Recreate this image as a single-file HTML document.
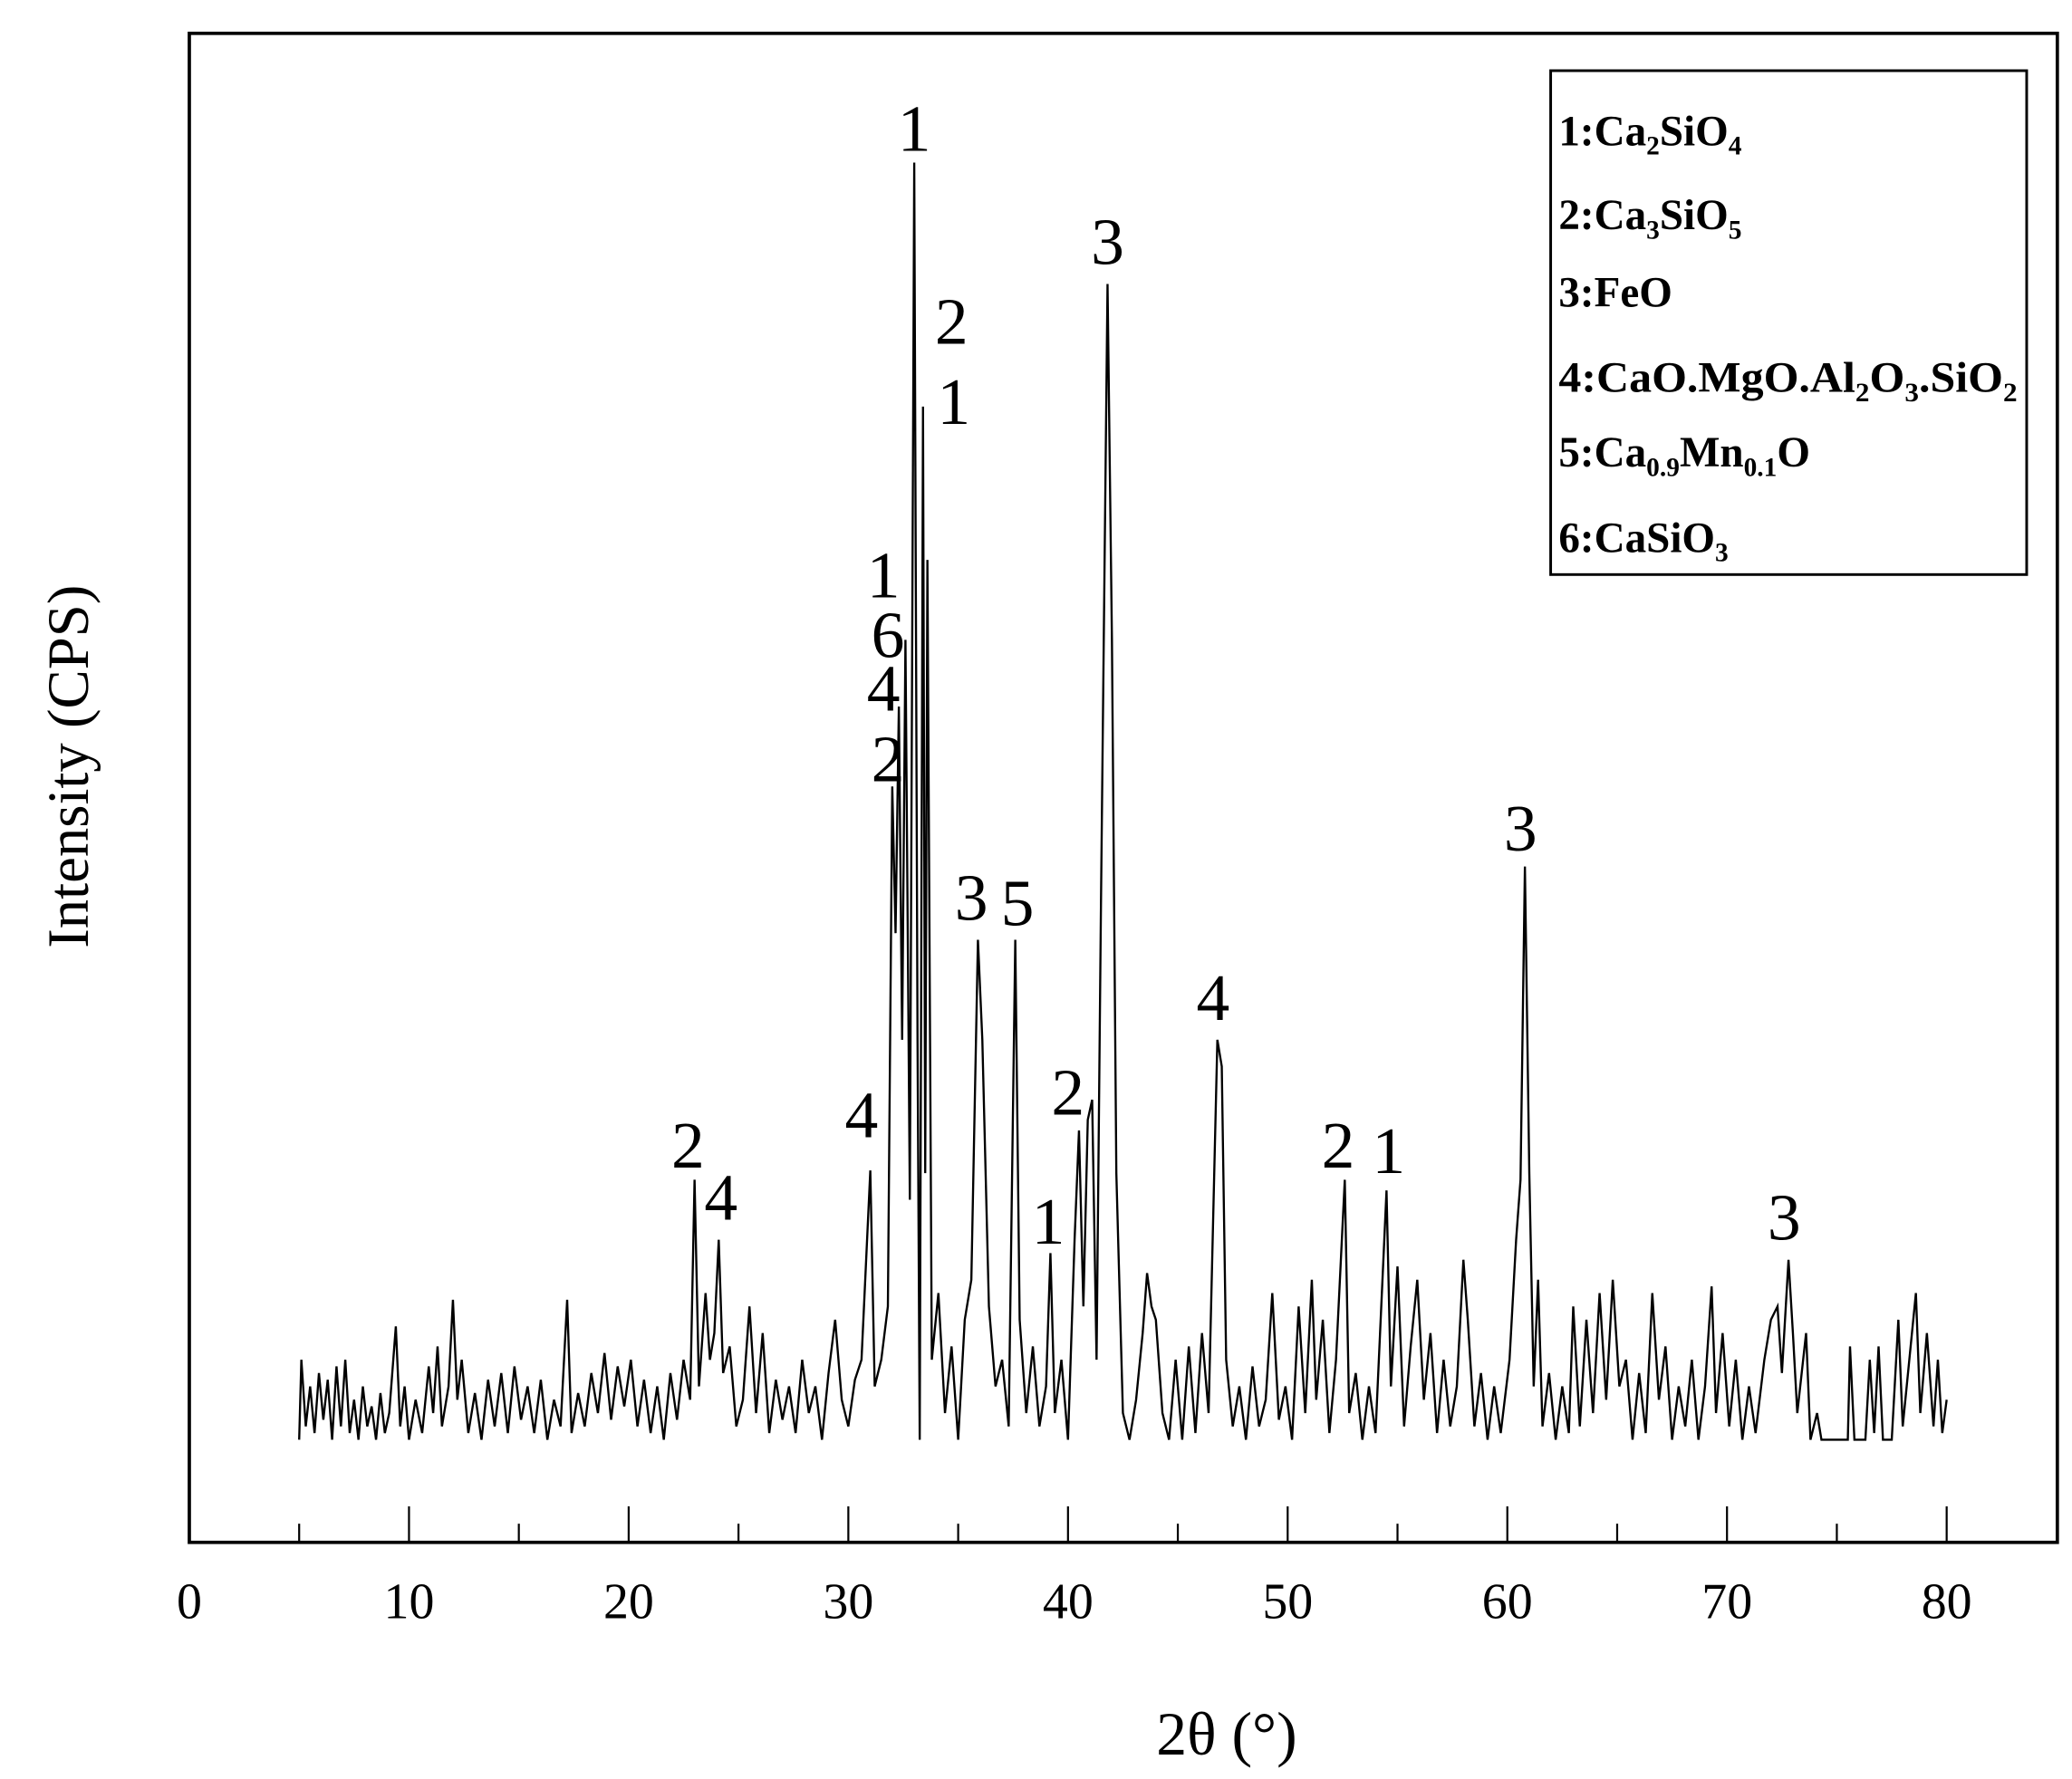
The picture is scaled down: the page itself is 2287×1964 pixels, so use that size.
<!DOCTYPE html>
<html><head><meta charset="utf-8"><style>
html,body{margin:0;padding:0;background:#fff;}
svg{display:block;}
text{font-family:"Liberation Serif",serif;fill:#000;}
.leg{font-weight:bold;font-size:32px;}
</style></head><body>
<svg id="chart" width="2287" height="1964" viewBox="0 0 1554 1334.5" xmlns="http://www.w3.org/2000/svg">
<rect x="142" y="25" width="1401" height="1132" fill="none" stroke="#000" stroke-width="2.5"/>
<g id="xticks"></g>
<g id="series"></g>
<g id="peaks"></g>
<text x="920" y="1316" font-size="46" text-anchor="middle">2θ (°)</text>
<text transform="translate(66,575) rotate(-90)" font-size="44" text-anchor="middle">Intensity (CPS)</text>
<g>
<rect x="1163" y="53" width="357" height="378" fill="#fff" stroke="#000" stroke-width="2"/>
<text class="leg" x="1169" y="109">1:Ca<tspan font-size="20" dy="7">2</tspan><tspan dy="-7">SiO</tspan><tspan font-size="20" dy="7">4</tspan></text>
<text class="leg" x="1169" y="172">2:Ca<tspan font-size="20" dy="7">3</tspan><tspan dy="-7">SiO</tspan><tspan font-size="20" dy="7">5</tspan></text>
<text class="leg" x="1169" y="230">3:FeO</text>
<text class="leg" x="1169" y="294" textLength="344" lengthAdjust="spacingAndGlyphs">4:CaO.MgO.Al<tspan font-size="20" dy="7">2</tspan><tspan dy="-7">O</tspan><tspan font-size="20" dy="7">3</tspan><tspan dy="-7">.SiO</tspan><tspan font-size="20" dy="7">2</tspan></text>
<text class="leg" x="1169" y="350">5:Ca<tspan font-size="20" dy="7">0.9</tspan><tspan dy="-7">Mn</tspan><tspan font-size="20" dy="7">0.1</tspan><tspan dy="-7">O</tspan></text>
<text class="leg" x="1169" y="414">6:CaSiO<tspan font-size="20" dy="7">3</tspan></text>
</g>
</svg>
<script>
const angles=[5.0,5.1,5.3,5.5,5.7,5.9,6.1,6.3,6.5,6.7,6.9,7.1,7.3,7.5,7.7,7.9,8.1,8.3,8.5,8.7,8.9,9.1,9.4,9.6,9.8,10.0,10.3,10.6,10.9,11.1,11.3,11.5,11.8,12.0,12.2,12.4,12.7,13.0,13.3,13.6,13.9,14.2,14.5,14.8,15.1,15.4,15.7,16.0,16.3,16.6,16.9,17.2,17.4,17.7,18.0,18.3,18.6,18.9,19.2,19.5,19.8,20.1,20.4,20.7,21.0,21.3,21.6,21.9,22.2,22.5,22.8,23.0,23.2,23.5,23.7,23.9,24.1,24.3,24.6,24.9,25.2,25.5,25.8,26.1,26.4,26.7,27.0,27.3,27.6,27.9,28.2,28.5,28.8,29.1,29.4,29.7,30.0,30.3,30.6,31.0,31.2,31.5,31.8,32.0,32.15,32.3,32.45,32.6,32.8,33.0,33.15,33.25,33.4,33.5,33.6,33.8,34.1,34.4,34.7,35.0,35.3,35.6,35.9,36.1,36.4,36.7,37.0,37.3,37.6,37.8,38.1,38.4,38.7,39.0,39.2,39.4,39.7,40.0,40.3,40.5,40.7,40.9,41.1,41.3,41.5,41.8,42.0,42.2,42.5,42.8,43.1,43.4,43.6,43.8,44.0,44.3,44.6,44.9,45.2,45.5,45.8,46.1,46.4,46.8,47.0,47.2,47.5,47.8,48.1,48.4,48.7,49.0,49.3,49.6,49.9,50.2,50.5,50.8,51.1,51.3,51.6,51.9,52.2,52.6,52.8,53.1,53.4,53.7,54.0,54.5,54.7,55.0,55.3,55.6,55.9,56.2,56.5,56.8,57.1,57.4,57.7,58.0,58.2,58.5,58.8,59.1,59.4,59.7,60.1,60.4,60.6,60.8,61.0,61.2,61.4,61.6,61.9,62.2,62.5,62.8,63.0,63.3,63.6,63.9,64.2,64.5,64.8,65.1,65.4,65.7,66.0,66.3,66.6,66.9,67.2,67.5,67.8,68.1,68.4,68.7,69.0,69.3,69.5,69.8,70.1,70.4,70.7,71.0,71.3,71.7,72.0,72.3,72.5,72.8,73.0,73.2,73.6,73.8,74.1,74.3,75.5,75.6,75.8,76.3,76.5,76.7,76.9,77.1,77.5,77.8,78.0,78.3,78.6,78.8,79.1,79.4,79.6,79.8,80.0];
const intensity=[0,60,10,40,5,50,15,45,0,55,10,60,5,30,0,40,10,25,0,35,5,20,85,10,40,0,30,5,55,20,70,10,40,105,30,60,5,35,0,45,10,50,5,55,15,40,5,45,0,30,10,105,5,35,10,50,20,65,15,55,25,60,10,45,5,40,0,50,15,60,30,195,40,110,60,80,150,50,70,10,30,100,20,80,5,45,15,40,5,60,20,40,0,50,90,30,10,45,60,202,40,60,100,490,380,550,300,600,180,958,300,0,775,200,660,60,110,20,70,0,90,120,375,300,100,40,60,10,375,90,20,70,10,40,140,20,60,0,150,232,100,240,255,60,400,867,600,200,20,0,30,80,125,100,90,20,0,60,0,70,5,80,20,300,280,60,10,40,0,55,10,30,110,15,40,0,100,20,120,30,90,5,60,195,20,50,0,40,5,187,40,130,10,70,120,30,80,5,60,10,40,135,90,10,50,0,40,5,60,150,195,430,200,40,120,10,50,0,40,5,100,10,90,20,110,30,120,40,60,0,50,5,110,30,70,0,40,10,60,0,40,115,20,80,10,60,0,40,5,60,90,100,50,135,80,20,80,0,20,0,0,70,0,0,60,5,70,0,0,90,10,60,110,20,80,10,60,5,30];
const tickLabels=[0,10,20,30,40,50,60,70,80];
const peakNums=["1","3","2","1","1","6","4","2","3","5","4","2","4","1","2","4","2","1","3","3"];
const peakAngles=[33.0,41.8,34.7,34.8,31.6,31.8,31.6,31.8,35.6,37.7,30.6,22.7,24.2,39.1,40.0,46.6,52.3,54.6,60.6,72.6];
const peakHeights=[985,900,840,780,650,605,565,512,408,404,245,222,183,165,262,333,222,218,460,168];

const NS="http://www.w3.org/2000/svg";
const X0=142, XS=16.475, BASE=1080;
function xs(a){return X0+a*XS;}
function ys(v){return BASE-v;}
function mk(tag,attrs,parent){const e=document.createElementNS(NS,tag);for(const k in attrs)e.setAttribute(k,attrs[k]);parent.appendChild(e);return e;}

const gt=document.getElementById('xticks');
for(let i=0;i<=16;i++){
  const a=i*5, major=(i%2===0);
  const t=mk('line',{x1:xs(a),x2:xs(a),y1:1157,y2:major?1130:1143,stroke:'#000','stroke-width':1.5},gt);
  
  
}
tickLabels.forEach(v=>{
  const t=mk('text',{x:xs(v),y:1214,'font-size':38,'text-anchor':'middle'},gt);
  t.textContent=v;
  
  
});

const gs=document.getElementById('series');
let d='';
angles.forEach((a,i)=>{d+=(i?'L':'M')+xs(a).toFixed(2)+','+ys(intensity[i]).toFixed(2);});
const p=mk('path',{d:d,fill:'none',stroke:'#000','stroke-width':1.6,'stroke-linejoin':'miter'},gs);



const gp=document.getElementById('peaks');
peakNums.forEach((n,i)=>{
  const t=mk('text',{x:xs(peakAngles[i]),y:ys(peakHeights[i])+18,'font-size':50,'text-anchor':'middle'},gp);
  t.textContent=n;
  
  
});
</script>
</body></html>
